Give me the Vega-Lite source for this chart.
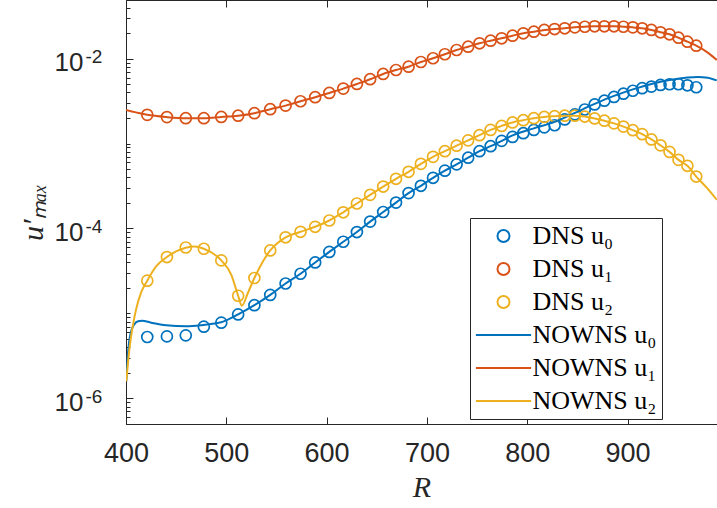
{
 "$schema": "https://vega.github.io/schema/vega-lite/v6.json",
 "width": 591,
 "height": 424,
 "autosize": {"type": "none"},
 "padding": {"left": 126, "top": 0, "right": 0, "bottom": 84},
 "background": "white",
 "config": {
  "view": {"stroke": "#262626", "strokeWidth": 1},
  "axis": {"grid": false, "domainColor": "#262626", "tickColor": "#262626", "labelColor": "#262626", "titleColor": "#262626", "labelFont": "Liberation Sans", "tickWidth": 1, "domainWidth": 1}
 },
 "datasets": {
  "dns": [
   {"R":421.2,"series":"DNS u₀","v":5.27e-6},{"R":440.8,"series":"DNS u₀","v":5.36e-6},{"R":459.6,"series":"DNS u₀","v":5.51e-6},{"R":477.6,"series":"DNS u₀","v":6.98e-6},{"R":495.0,"series":"DNS u₀","v":7.78e-6},{"R":511.8,"series":"DNS u₀","v":9.73e-6},{"R":528.0,"series":"DNS u₀","v":1.248e-5},{"R":543.8,"series":"DNS u₀","v":1.651e-5},{"R":559.1,"series":"DNS u₀","v":2.249e-5},{"R":574.0,"series":"DNS u₀","v":2.93e-5},{"R":588.6,"series":"DNS u₀","v":3.98e-5},{"R":602.7,"series":"DNS u₀","v":5.30e-5},{"R":616.6,"series":"DNS u₀","v":6.98e-5},{"R":630.2,"series":"DNS u₀","v":9.08e-5},{"R":643.4,"series":"DNS u₀","v":1.205e-4},{"R":656.4,"series":"DNS u₀","v":1.563e-4},{"R":669.2,"series":"DNS u₀","v":2.018e-4},{"R":681.7,"series":"DNS u₀","v":2.61e-4},{"R":694.0,"series":"DNS u₀","v":3.18e-4},{"R":706.1,"series":"DNS u₀","v":3.95e-4},{"R":717.9,"series":"DNS u₀","v":4.80e-4},{"R":729.6,"series":"DNS u₀","v":5.69e-4},{"R":741.1,"series":"DNS u₀","v":6.82e-4},{"R":752.4,"series":"DNS u₀","v":8.14e-4},{"R":763.5,"series":"DNS u₀","v":9.31e-4},{"R":774.5,"series":"DNS u₀","v":1.076e-3},{"R":785.4,"series":"DNS u₀","v":1.199e-3},{"R":796.1,"series":"DNS u₀","v":1.325e-3},{"R":806.6,"series":"DNS u₀","v":1.449e-3},{"R":817.0,"series":"DNS u₀","v":1.552e-3},{"R":827.3,"series":"DNS u₀","v":1.644e-3},{"R":837.4,"series":"DNS u₀","v":1.927e-3},{"R":847.5,"series":"DNS u₀","v":2.206e-3},{"R":857.4,"series":"DNS u₀","v":2.52e-3},{"R":867.2,"series":"DNS u₀","v":2.89e-3},{"R":876.9,"series":"DNS u₀","v":3.20e-3},{"R":886.5,"series":"DNS u₀","v":3.54e-3},{"R":895.9,"series":"DNS u₀","v":3.87e-3},{"R":905.3,"series":"DNS u₀","v":4.19e-3},{"R":914.6,"series":"DNS u₀","v":4.49e-3},{"R":923.8,"series":"DNS u₀","v":4.69e-3},{"R":932.9,"series":"DNS u₀","v":4.91e-3},{"R":941.9,"series":"DNS u₀","v":5.00e-3},{"R":950.8,"series":"DNS u₀","v":5.00e-3},{"R":959.7,"series":"DNS u₀","v":4.86e-3},{"R":968.5,"series":"DNS u₀","v":4.61e-3},
   {"R":421.2,"series":"DNS u₁","v":2.18e-3},{"R":440.8,"series":"DNS u₁","v":2.05e-3},{"R":459.6,"series":"DNS u₁","v":1.99e-3},{"R":477.6,"series":"DNS u₁","v":1.99e-3},{"R":495.0,"series":"DNS u₁","v":2.06e-3},{"R":511.8,"series":"DNS u₁","v":2.13e-3},{"R":528.0,"series":"DNS u₁","v":2.28e-3},{"R":543.8,"series":"DNS u₁","v":2.54e-3},{"R":559.1,"series":"DNS u₁","v":2.80e-3},{"R":574.0,"series":"DNS u₁","v":3.15e-3},{"R":588.6,"series":"DNS u₁","v":3.52e-3},{"R":602.7,"series":"DNS u₁","v":3.95e-3},{"R":616.6,"series":"DNS u₁","v":4.44e-3},{"R":630.2,"series":"DNS u₁","v":5.04e-3},{"R":643.4,"series":"DNS u₁","v":5.73e-3},{"R":656.4,"series":"DNS u₁","v":6.61e-3},{"R":669.2,"series":"DNS u₁","v":7.36e-3},{"R":681.7,"series":"DNS u₁","v":8.05e-3},{"R":694.0,"series":"DNS u₁","v":9.14e-3},{"R":706.1,"series":"DNS u₁","v":1.011e-2},{"R":717.9,"series":"DNS u₁","v":1.127e-2},{"R":729.6,"series":"DNS u₁","v":1.265e-2},{"R":741.1,"series":"DNS u₁","v":1.384e-2},{"R":752.4,"series":"DNS u₁","v":1.517e-2},{"R":763.5,"series":"DNS u₁","v":1.629e-2},{"R":774.5,"series":"DNS u₁","v":1.738e-2},{"R":785.4,"series":"DNS u₁","v":1.866e-2},{"R":796.1,"series":"DNS u₁","v":1.991e-2},{"R":806.6,"series":"DNS u₁","v":2.080e-2},{"R":817.0,"series":"DNS u₁","v":2.178e-2},{"R":827.3,"series":"DNS u₁","v":2.234e-2},{"R":837.4,"series":"DNS u₁","v":2.280e-2},{"R":847.5,"series":"DNS u₁","v":2.339e-2},{"R":857.4,"series":"DNS u₁","v":2.377e-2},{"R":867.2,"series":"DNS u₁","v":2.404e-2},{"R":876.9,"series":"DNS u₁","v":2.404e-2},{"R":886.5,"series":"DNS u₁","v":2.404e-2},{"R":895.9,"series":"DNS u₁","v":2.377e-2},{"R":905.3,"series":"DNS u₁","v":2.339e-2},{"R":914.6,"series":"DNS u₁","v":2.280e-2},{"R":923.8,"series":"DNS u₁","v":2.178e-2},{"R":932.9,"series":"DNS u₁","v":2.046e-2},{"R":941.9,"series":"DNS u₁","v":1.936e-2},{"R":950.8,"series":"DNS u₁","v":1.766e-2},{"R":959.7,"series":"DNS u₁","v":1.585e-2},{"R":968.5,"series":"DNS u₁","v":1.422e-2},
   {"R":421.2,"series":"DNS u₂","v":2.43e-5},{"R":440.8,"series":"DNS u₂","v":4.61e-5},{"R":459.6,"series":"DNS u₂","v":5.97e-5},{"R":477.6,"series":"DNS u₂","v":5.77e-5},{"R":495.0,"series":"DNS u₂","v":4.21e-5},{"R":511.8,"series":"DNS u₂","v":1.614e-5},{"R":528.0,"series":"DNS u₂","v":2.61e-5},{"R":543.8,"series":"DNS u₂","v":5.51e-5},{"R":559.1,"series":"DNS u₂","v":7.87e-5},{"R":574.0,"series":"DNS u₂","v":9.14e-5},{"R":588.6,"series":"DNS u₂","v":1.047e-4},{"R":602.7,"series":"DNS u₂","v":1.242e-4},{"R":616.6,"series":"DNS u₂","v":1.552e-4},{"R":630.2,"series":"DNS u₂","v":1.968e-4},{"R":643.4,"series":"DNS u₂","v":2.49e-4},{"R":656.4,"series":"DNS u₂","v":3.12e-4},{"R":669.2,"series":"DNS u₂","v":3.85e-4},{"R":681.7,"series":"DNS u₂","v":4.65e-4},{"R":694.0,"series":"DNS u₂","v":5.77e-4},{"R":706.1,"series":"DNS u₂","v":6.98e-4},{"R":717.9,"series":"DNS u₂","v":8.14e-4},{"R":729.6,"series":"DNS u₂","v":9.44e-4},{"R":741.1,"series":"DNS u₂","v":1.091e-3},{"R":752.4,"series":"DNS u₂","v":1.256e-3},{"R":763.5,"series":"DNS u₂","v":1.449e-3},{"R":774.5,"series":"DNS u₂","v":1.614e-3},{"R":785.4,"series":"DNS u₂","v":1.775e-3},{"R":796.1,"series":"DNS u₂","v":1.884e-3},{"R":806.6,"series":"DNS u₂","v":1.991e-3},{"R":817.0,"series":"DNS u₂","v":2.061e-3},{"R":827.3,"series":"DNS u₂","v":2.10e-3},{"R":837.4,"series":"DNS u₂","v":2.13e-3},{"R":847.5,"series":"DNS u₂","v":2.13e-3},{"R":857.4,"series":"DNS u₂","v":2.08e-3},{"R":867.2,"series":"DNS u₂","v":1.977e-3},{"R":876.9,"series":"DNS u₂","v":1.859e-3},{"R":886.5,"series":"DNS u₂","v":1.730e-3},{"R":895.9,"series":"DNS u₂","v":1.585e-3},{"R":905.3,"series":"DNS u₂","v":1.438e-3},{"R":914.6,"series":"DNS u₂","v":1.291e-3},{"R":923.8,"series":"DNS u₂","v":1.119e-3},{"R":932.9,"series":"DNS u₂","v":9.53e-4},{"R":941.9,"series":"DNS u₂","v":7.98e-4},{"R":950.8,"series":"DNS u₂","v":6.43e-4},{"R":959.7,"series":"DNS u₂","v":5.47e-4},{"R":968.5,"series":"DNS u₂","v":4.09e-4}
  ],
  "nowns": [
   {"R":400.3,"series":"NOWNS u₀","v":1.585e-6},{"R":401.5,"series":"NOWNS u₀","v":2.85e-6},{"R":403,"series":"NOWNS u₀","v":4.52e-6},{"R":405,"series":"NOWNS u₀","v":6.09e-6},{"R":408,"series":"NOWNS u₀","v":7.36e-6},{"R":412,"series":"NOWNS u₀","v":8.09e-6},{"R":416,"series":"NOWNS u₀","v":8.20e-6},{"R":425,"series":"NOWNS u₀","v":7.78e-6},{"R":440,"series":"NOWNS u₀","v":7.26e-6},{"R":460,"series":"NOWNS u₀","v":7.06e-6},{"R":475,"series":"NOWNS u₀","v":7.26e-6},{"R":490,"series":"NOWNS u₀","v":7.67e-6},{"R":495.0,"series":"NOWNS u₀","v":7.87e-6},{"R":511.8,"series":"NOWNS u₀","v":9.73e-6},{"R":528.0,"series":"NOWNS u₀","v":1.248e-5},{"R":543.8,"series":"NOWNS u₀","v":1.651e-5},{"R":559.1,"series":"NOWNS u₀","v":2.249e-5},{"R":574.0,"series":"NOWNS u₀","v":2.93e-5},{"R":588.6,"series":"NOWNS u₀","v":3.98e-5},{"R":602.7,"series":"NOWNS u₀","v":5.30e-5},{"R":616.6,"series":"NOWNS u₀","v":6.98e-5},{"R":630.2,"series":"NOWNS u₀","v":9.08e-5},{"R":643.4,"series":"NOWNS u₀","v":1.205e-4},{"R":656.4,"series":"NOWNS u₀","v":1.563e-4},{"R":669.2,"series":"NOWNS u₀","v":2.018e-4},{"R":681.7,"series":"NOWNS u₀","v":2.61e-4},{"R":694.0,"series":"NOWNS u₀","v":3.18e-4},{"R":706.1,"series":"NOWNS u₀","v":3.95e-4},{"R":717.9,"series":"NOWNS u₀","v":4.80e-4},{"R":729.6,"series":"NOWNS u₀","v":5.69e-4},{"R":741.1,"series":"NOWNS u₀","v":6.82e-4},{"R":752.4,"series":"NOWNS u₀","v":8.14e-4},{"R":763.5,"series":"NOWNS u₀","v":9.31e-4},{"R":774.5,"series":"NOWNS u₀","v":1.076e-3},{"R":785.4,"series":"NOWNS u₀","v":1.248e-3},{"R":806.6,"series":"NOWNS u₀","v":1.510e-3},{"R":827.3,"series":"NOWNS u₀","v":1.799e-3},{"R":847.5,"series":"NOWNS u₀","v":2.30e-3},{"R":867.2,"series":"NOWNS u₀","v":2.93e-3},{"R":886.5,"series":"NOWNS u₀","v":3.64e-3},{"R":905.3,"series":"NOWNS u₀","v":4.35e-3},{"R":923.8,"series":"NOWNS u₀","v":5.04e-3},{"R":941.9,"series":"NOWNS u₀","v":5.61e-3},{"R":959.7,"series":"NOWNS u₀","v":6.01e-3},{"R":970,"series":"NOWNS u₀","v":6.10e-3},{"R":980,"series":"NOWNS u₀","v":5.96e-3},{"R":989,"series":"NOWNS u₀","v":5.55e-3},
   {"R":400,"series":"NOWNS u₁","v":2.49e-3},{"R":410,"series":"NOWNS u₁","v":2.33e-3},{"R":421.2,"series":"NOWNS u₁","v":2.18e-3},{"R":440.8,"series":"NOWNS u₁","v":2.05e-3},{"R":459.6,"series":"NOWNS u₁","v":1.99e-3},{"R":477.6,"series":"NOWNS u₁","v":1.99e-3},{"R":495.0,"series":"NOWNS u₁","v":2.06e-3},{"R":511.8,"series":"NOWNS u₁","v":2.13e-3},{"R":528.0,"series":"NOWNS u₁","v":2.28e-3},{"R":543.8,"series":"NOWNS u₁","v":2.54e-3},{"R":559.1,"series":"NOWNS u₁","v":2.80e-3},{"R":574.0,"series":"NOWNS u₁","v":3.15e-3},{"R":588.6,"series":"NOWNS u₁","v":3.52e-3},{"R":602.7,"series":"NOWNS u₁","v":3.95e-3},{"R":616.6,"series":"NOWNS u₁","v":4.44e-3},{"R":630.2,"series":"NOWNS u₁","v":5.04e-3},{"R":643.4,"series":"NOWNS u₁","v":5.73e-3},{"R":656.4,"series":"NOWNS u₁","v":6.61e-3},{"R":669.2,"series":"NOWNS u₁","v":7.36e-3},{"R":681.7,"series":"NOWNS u₁","v":8.05e-3},{"R":694.0,"series":"NOWNS u₁","v":9.14e-3},{"R":706.1,"series":"NOWNS u₁","v":1.011e-2},{"R":717.9,"series":"NOWNS u₁","v":1.127e-2},{"R":729.6,"series":"NOWNS u₁","v":1.265e-2},{"R":741.1,"series":"NOWNS u₁","v":1.384e-2},{"R":752.4,"series":"NOWNS u₁","v":1.517e-2},{"R":763.5,"series":"NOWNS u₁","v":1.629e-2},{"R":774.5,"series":"NOWNS u₁","v":1.738e-2},{"R":785.4,"series":"NOWNS u₁","v":1.866e-2},{"R":796.1,"series":"NOWNS u₁","v":1.991e-2},{"R":806.6,"series":"NOWNS u₁","v":2.080e-2},{"R":817.0,"series":"NOWNS u₁","v":2.178e-2},{"R":827.3,"series":"NOWNS u₁","v":2.234e-2},{"R":837.4,"series":"NOWNS u₁","v":2.280e-2},{"R":847.5,"series":"NOWNS u₁","v":2.339e-2},{"R":857.4,"series":"NOWNS u₁","v":2.377e-2},{"R":867.2,"series":"NOWNS u₁","v":2.404e-2},{"R":876.9,"series":"NOWNS u₁","v":2.404e-2},{"R":886.5,"series":"NOWNS u₁","v":2.404e-2},{"R":895.9,"series":"NOWNS u₁","v":2.377e-2},{"R":905.3,"series":"NOWNS u₁","v":2.339e-2},{"R":914.6,"series":"NOWNS u₁","v":2.280e-2},{"R":923.8,"series":"NOWNS u₁","v":2.178e-2},{"R":932.9,"series":"NOWNS u₁","v":2.046e-2},{"R":941.9,"series":"NOWNS u₁","v":1.936e-2},{"R":950.8,"series":"NOWNS u₁","v":1.766e-2},{"R":959.7,"series":"NOWNS u₁","v":1.585e-2},{"R":968.5,"series":"NOWNS u₁","v":1.422e-2},{"R":980,"series":"NOWNS u₁","v":1.18e-2},{"R":989,"series":"NOWNS u₁","v":9.66e-3},
   {"R":400.3,"series":"NOWNS u₂","v":1.585e-6},{"R":403.3,"series":"NOWNS u₂","v":3.74e-6},{"R":406.7,"series":"NOWNS u₂","v":7.03e-6},{"R":410,"series":"NOWNS u₂","v":1.107e-5},{"R":415,"series":"NOWNS u₂","v":1.754e-5},{"R":421.2,"series":"NOWNS u₂","v":2.43e-5},{"R":430,"series":"NOWNS u₂","v":3.57e-5},{"R":440.8,"series":"NOWNS u₂","v":4.61e-5},{"R":459.6,"series":"NOWNS u₂","v":5.93e-5},{"R":468.5,"series":"NOWNS u₂","v":6.14e-5},{"R":477.6,"series":"NOWNS u₂","v":5.77e-5},{"R":495.0,"series":"NOWNS u₂","v":4.21e-5},{"R":505,"series":"NOWNS u₂","v":2.85e-5},{"R":511.8,"series":"NOWNS u₂","v":1.614e-5},{"R":515.5,"series":"NOWNS u₂","v":1.233e-5},{"R":521.5,"series":"NOWNS u₂","v":1.738e-5},{"R":528.0,"series":"NOWNS u₂","v":2.61e-5},{"R":536.5,"series":"NOWNS u₂","v":4.09e-5},{"R":543.8,"series":"NOWNS u₂","v":5.51e-5},{"R":559.1,"series":"NOWNS u₂","v":7.87e-5},{"R":574.0,"series":"NOWNS u₂","v":9.14e-5},{"R":588.6,"series":"NOWNS u₂","v":1.047e-4},{"R":602.7,"series":"NOWNS u₂","v":1.242e-4},{"R":616.6,"series":"NOWNS u₂","v":1.552e-4},{"R":630.2,"series":"NOWNS u₂","v":1.968e-4},{"R":643.4,"series":"NOWNS u₂","v":2.49e-4},{"R":656.4,"series":"NOWNS u₂","v":3.12e-4},{"R":669.2,"series":"NOWNS u₂","v":3.85e-4},{"R":681.7,"series":"NOWNS u₂","v":4.65e-4},{"R":694.0,"series":"NOWNS u₂","v":5.77e-4},{"R":706.1,"series":"NOWNS u₂","v":6.98e-4},{"R":717.9,"series":"NOWNS u₂","v":8.14e-4},{"R":729.6,"series":"NOWNS u₂","v":9.44e-4},{"R":741.1,"series":"NOWNS u₂","v":1.091e-3},{"R":752.4,"series":"NOWNS u₂","v":1.256e-3},{"R":763.5,"series":"NOWNS u₂","v":1.449e-3},{"R":774.5,"series":"NOWNS u₂","v":1.614e-3},{"R":785.4,"series":"NOWNS u₂","v":1.775e-3},{"R":796.1,"series":"NOWNS u₂","v":1.884e-3},{"R":806.6,"series":"NOWNS u₂","v":1.991e-3},{"R":817.0,"series":"NOWNS u₂","v":2.061e-3},{"R":827.3,"series":"NOWNS u₂","v":2.10e-3},{"R":837.4,"series":"NOWNS u₂","v":2.13e-3},{"R":847.5,"series":"NOWNS u₂","v":2.13e-3},{"R":857.4,"series":"NOWNS u₂","v":2.08e-3},{"R":867.2,"series":"NOWNS u₂","v":1.977e-3},{"R":876.9,"series":"NOWNS u₂","v":1.859e-3},{"R":886.5,"series":"NOWNS u₂","v":1.730e-3},{"R":895.9,"series":"NOWNS u₂","v":1.585e-3},{"R":905.3,"series":"NOWNS u₂","v":1.438e-3},{"R":914.6,"series":"NOWNS u₂","v":1.291e-3},{"R":923.8,"series":"NOWNS u₂","v":1.119e-3},{"R":932.9,"series":"NOWNS u₂","v":9.53e-4},{"R":941.9,"series":"NOWNS u₂","v":7.98e-4},{"R":950.8,"series":"NOWNS u₂","v":6.43e-4},{"R":959.7,"series":"NOWNS u₂","v":5.47e-4},{"R":968.5,"series":"NOWNS u₂","v":4.09e-4},{"R":980,"series":"NOWNS u₂","v":2.93e-4},{"R":989,"series":"NOWNS u₂","v":2.18e-4}
  ]
 },
 "layer": [
  {
   "data": {"name": "dns"},
   "mark": {"type": "point", "filled": false, "size": 121, "strokeWidth": 1.7, "opacity": 1},
   "encoding": {
    "x": {"field": "R", "type": "quantitative", "scale": {"domain": [400, 989.2], "nice": false, "zero": false},
     "axis": {"orient": "top", "values": [400, 500, 600, 700, 800, 900], "labels": false, "tickSize": -7, "domain": false, "title": null}},
    "y": {"field": "v", "type": "quantitative", "scale": {"type": "log", "domain": [4.98e-7, 0.0491], "nice": false},
     "axis": {"orient": "left", "title": null, "domain": false, "tickSize": -4,
      "values": [6e-7, 7e-7, 8e-7, 9e-7, 1e-6, 2e-6, 3e-6, 4e-6, 5e-6, 6e-6, 7e-6, 8e-6, 9e-6, 1e-5, 2e-5, 3e-5, 4e-5, 5e-5, 6e-5, 7e-5, 8e-5, 9e-5, 1e-4, 2e-4, 3e-4, 4e-4, 5e-4, 6e-4, 7e-4, 8e-4, 9e-4, 1e-3, 2e-3, 3e-3, 4e-3, 5e-3, 6e-3, 7e-3, 8e-3, 9e-3, 1e-2, 2e-2, 3e-2, 4e-2],
      "labelExpr": "(datum.value > 0.009 && datum.value < 0.011) ? '-2' : (datum.value > 0.00009 && datum.value < 0.00011) ? '-4' : (datum.value > 0.0000009 && datum.value < 0.0000011) ? '-6' : ''",
      "labelAlign": "left", "labelBaseline": "middle", "labelPadding": 45, "labelFontSize": 19, "labelOffset": -2, "labelOverlap": false, "labelBound": false}},
    "color": {"field": "series", "type": "nominal",
     "scale": {"domain": ["DNS u₀", "DNS u₁", "DNS u₂", "NOWNS u₀", "NOWNS u₁", "NOWNS u₂"], "range": ["#0072BD", "#D95319", "#EDB120", "#0072BD", "#D95319", "#EDB120"]},
     "legend": {"orient": "none", "legendX": 344, "legendY": 218, "title": null, "padding": 5, "strokeColor": "#262626", "fillColor": "white", "labelFont": "Liberation Serif", "labelFontSize": 26, "labelColor": "black", "symbolSize": 144, "symbolStrokeWidth": 2, "symbolOffset": 15.5, "labelOffset": 16, "rowPadding": 7, "labelLimit": 300, "cornerRadius": 0}},
    "shape": {"field": "series", "type": "nominal",
     "scale": {"domain": ["DNS u₀", "DNS u₁", "DNS u₂", "NOWNS u₀", "NOWNS u₁", "NOWNS u₂"], "range": ["circle", "circle", "circle", "M-4.6,0L4.6,0", "M-4.6,0L4.6,0", "M-4.6,0L4.6,0"]},
     "legend": {"orient": "none", "legendX": 344, "legendY": 218, "title": null, "padding": 5, "strokeColor": "#262626", "fillColor": "white", "labelFont": "Liberation Serif", "labelFontSize": 26, "labelColor": "black", "symbolSize": 144, "symbolStrokeWidth": 2, "symbolOffset": 15.5, "labelOffset": 16, "rowPadding": 7, "labelLimit": 300, "cornerRadius": 0}}
   }
  },
  {
   "data": {"name": "nowns"},
   "mark": {"type": "line", "interpolate": "monotone", "strokeWidth": 2, "clip": true},
   "encoding": {
    "x": {"field": "R", "type": "quantitative", "scale": {"domain": [400, 989.2], "nice": false, "zero": false},
     "axis": {"orient": "bottom", "values": [400, 500, 600, 700, 800, 900], "tickSize": -7, "labelFontSize": 27, "labelPadding": 23, "labelFlush": false, "labelOverlap": false,
      "title": "R", "titleFont": "Liberation Serif", "titleFontStyle": "italic", "titleFontWeight": "normal", "titleFontSize": 30, "titlePadding": 6}},
    "y": {"field": "v", "type": "quantitative", "scale": {"type": "log", "domain": [4.98e-7, 0.0491], "nice": false},
     "axis": {"orient": "left", "values": [1e-6, 1e-4, 1e-2], "tickSize": -7, "labelExpr": "'10'", "labelFontSize": 26, "labelPadding": 50, "labelOffset": 4, "labelOverlap": false, "labelBound": false,
      "title": "u′ₘₐₓ", "titleFont": "Liberation Serif", "titleFontStyle": "italic", "titleFontWeight": "normal", "titleFontSize": 30, "titlePadding": 6}},
    "color": {"field": "series", "type": "nominal"}
   }
  }
 ],
 "resolve": {"axis": {"x": "independent", "y": "independent"}}
}
